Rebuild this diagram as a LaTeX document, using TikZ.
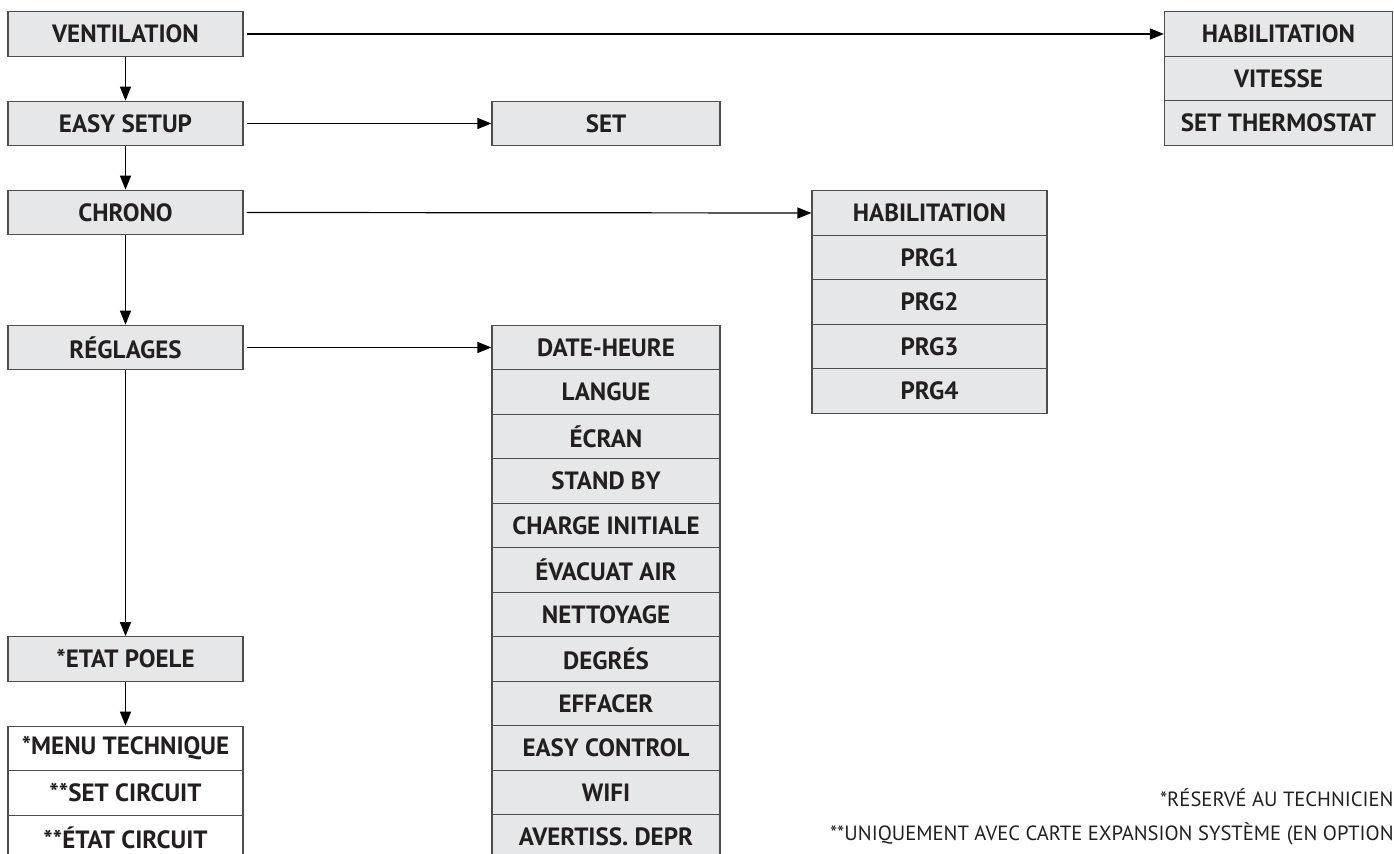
\documentclass[tikz,border=0pt]{standalone}
\usepackage{fontspec}
\setmainfont{PT Sans}
\usetikzlibrary{arrows.meta}
\definecolor{boxfill}{HTML}{E6E7E8}
\definecolor{boxline}{HTML}{4D4D4D}
\definecolor{txt}{HTML}{231F20}
\begin{document}
\begin{tikzpicture}[x=0.5pt,y=-0.5pt,
  box/.style={draw=boxline, line width=0.6pt, fill=boxfill, minimum height=22.25pt, inner sep=0pt,
    font=\bfseries\fontsize{12.5}{13}\selectfont, text=txt},
  wbox/.style={box, fill=white},
  lw/.style={minimum width=117.5pt},
  nw/.style={minimum width=114pt},
  arr/.style={-{Triangle[length=7pt,width=5.5pt]}, line width=0.6pt, draw=black},
  note/.style={anchor=base east, inner sep=0pt, font=\fontsize{10.3}{11}\selectfont, text=txt}]
\useasboundingbox (0,0) rectangle (1394,854);
\clip (0,0) rectangle (1394,854);
% left column
\node[box,lw] (vent) at (125.5,34) {VENTILATION};
\node[box,lw] (easy) at (125.5,123.5) {EASY SETUP};
\node[box,lw] (chrono) at (125.5,212.5) {CHRONO};
\node[box,lw] (regl) at (125.5,347.5) {RÉGLAGES};
\node[box,lw] (etat) at (125.5,659) {*ETAT POELE};
\node[wbox,lw] (menu) at (125.5,748.5) {*MENU TECHNIQUE};
\node[wbox,lw] (setc) at (125.5,793) {**SET CIRCUIT};
\node[wbox,lw] (etatc) at (125.5,837.5) {**ÉTAT CIRCUIT};
% set
\node[box,nw] (set) at (606,123.5) {SET};
% ventilation submenu
\node[box,nw] (vhab) at (1278.5,34) {HABILITATION};
\node[box,nw] (vit) at (1278.5,78.5) {VITESSE};
\node[box,nw] (therm) at (1278.5,123) {SET THERMOSTAT};
% chrono submenu
\node[box,lw] (chab) at (929.5,213) {HABILITATION};
\node[box,lw] (prg1) at (929.5,257.5) {PRG1};
\node[box,lw] (prg2) at (929.5,302) {PRG2};
\node[box,lw] (prg3) at (929.5,346.5) {PRG3};
\node[box,lw] (prg4) at (929.5,391) {PRG4};
% reglages submenu
\node[box,nw] (r1) at (606,347.5) {DATE-HEURE};
\node[box,nw] (r2) at (606,392) {LANGUE};
\node[box,nw] (r3) at (606,436.5) {ÉCRAN};
\node[box,nw] (r4) at (606,481) {STAND BY};
\node[box,nw] (r5) at (606,525.5) {CHARGE INITIALE};
\node[box,nw] (r6) at (606,570) {ÉVACUAT AIR};
\node[box,nw] (r7) at (606,614.5) {NETTOYAGE};
\node[box,nw] (r8) at (606,659) {DEGRÉS};
\node[box,nw] (r9) at (606,703.5) {EFFACER};
\node[box,nw] (r10) at (606,748) {EASY CONTROL};
\node[box,nw] (r11) at (606,792.5) {WIFI};
\node[box,nw] (r12) at (606,837) {AVERTISS. DEPR};
% arrows
\draw[arr] (vent.east) ++(3,0) -- (vhab.west);
\draw[arr] (easy.east) ++(3,0) -- (set.west);
\draw[arr] (chrono.east) ++(3,0) -- (chab.west);
\draw[arr] (regl.east) ++(3,0) -- (r1.west);
\draw[arr] (vent.south) -- (easy.north);
\draw[arr] (easy.south) -- (chrono.north);
\draw[arr] (chrono.south) -- (regl.north);
\draw[arr] (regl.south) -- (etat.north);
\draw[arr] (etat.south) -- (menu.north);
% notes
\node[note] (n1) at (1394,807) {*RÉSERVÉ AU TECHNICIEN};
\node[note] (n2) at (1394,841) {**UNIQUEMENT AVEC CARTE EXPANSION SYSTÈME (EN OPTION};
\end{tikzpicture}
\end{document}
